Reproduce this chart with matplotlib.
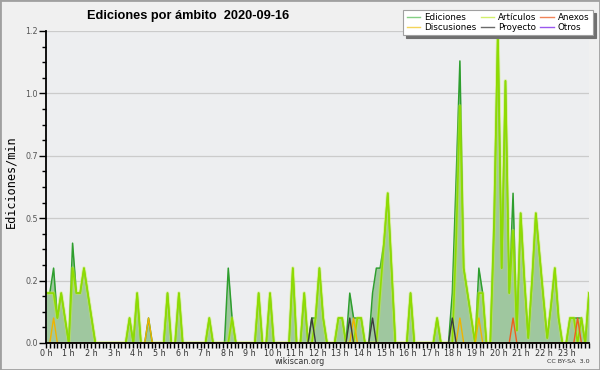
"""
Ediciones por ámbito (wikiscan), 2020-09-16 — 10-minute bins, edits per minute.
"""

import numpy as np
import matplotlib.pyplot as plt
from matplotlib.lines import Line2D
from matplotlib.patches import Rectangle
from matplotlib.ticker import FixedLocator, FixedFormatter, MultipleLocator

N_BINS = 144  # 10-minute bins over 24 h

# one row per hour, six 10-minute bins each
ediciones = [
    0.2, 0.2, 0.3, 0.1, 0.2, 0.1,
    0.0, 0.4, 0.2, 0.2, 0.3, 0.2,
    0.1, 0.0, 0.0, 0.0, 0.0, 0.0,
    0.0, 0.0, 0.0, 0.0, 0.1, 0.0,
    0.2, 0.0, 0.0, 0.1, 0.0, 0.0,
    0.0, 0.0, 0.2, 0.0, 0.0, 0.2,
    0.0, 0.0, 0.0, 0.0, 0.0, 0.0,
    0.0, 0.1, 0.0, 0.0, 0.0, 0.0,
    0.3, 0.1, 0.0, 0.0, 0.0, 0.0,
    0.0, 0.0, 0.2, 0.0, 0.0, 0.2,
    0.0, 0.0, 0.0, 0.0, 0.0, 0.3,
    0.0, 0.0, 0.2, 0.0, 0.1, 0.1,
    0.3, 0.1, 0.0, 0.0, 0.0, 0.1,
    0.1, 0.0, 0.2, 0.1, 0.1, 0.1,
    0.0, 0.0, 0.2, 0.3, 0.3, 0.4,
    0.6, 0.3, 0.0, 0.0, 0.0, 0.0,
    0.2, 0.0, 0.0, 0.0, 0.0, 0.0,
    0.0, 0.1, 0.0, 0.0, 0.0, 0.2,
    0.65, 1.13, 0.3, 0.2, 0.1, 0.0,
    0.3, 0.2, 0.0, 0.0, 0.5, 1.25,
    0.3, 1.05, 0.2, 0.6, 0.05, 0.52,
    0.25, 0.02, 0.25, 0.52, 0.35, 0.18,
    0.02, 0.15, 0.3, 0.1, 0.0, 0.0,
    0.1, 0.1, 0.1, 0.1, 0.0, 0.2,
]

articulos = [
    0.2, 0.2, 0.2, 0.1, 0.2, 0.1,
    0.0, 0.3, 0.2, 0.2, 0.3, 0.2,
    0.1, 0.0, 0.0, 0.0, 0.0, 0.0,
    0.0, 0.0, 0.0, 0.0, 0.1, 0.0,
    0.2, 0.0, 0.0, 0.0, 0.0, 0.0,
    0.0, 0.0, 0.2, 0.0, 0.0, 0.2,
    0.0, 0.0, 0.0, 0.0, 0.0, 0.0,
    0.0, 0.1, 0.0, 0.0, 0.0, 0.0,
    0.0, 0.1, 0.0, 0.0, 0.0, 0.0,
    0.0, 0.0, 0.2, 0.0, 0.0, 0.2,
    0.0, 0.0, 0.0, 0.0, 0.0, 0.3,
    0.0, 0.0, 0.2, 0.0, 0.0, 0.1,
    0.3, 0.1, 0.0, 0.0, 0.0, 0.1,
    0.1, 0.0, 0.0, 0.0, 0.1, 0.1,
    0.0, 0.0, 0.0, 0.0, 0.2, 0.4,
    0.6, 0.3, 0.0, 0.0, 0.0, 0.0,
    0.2, 0.0, 0.0, 0.0, 0.0, 0.0,
    0.0, 0.1, 0.0, 0.0, 0.0, 0.0,
    0.4, 0.95, 0.3, 0.2, 0.1, 0.0,
    0.2, 0.2, 0.0, 0.0, 0.45, 1.25,
    0.3, 1.05, 0.2, 0.45, 0.05, 0.52,
    0.25, 0.02, 0.25, 0.52, 0.35, 0.18,
    0.02, 0.15, 0.3, 0.1, 0.0, 0.0,
    0.1, 0.1, 0.0, 0.1, 0.0, 0.2,
]

# sparse series: bin index -> edits/min
discusiones = {2: 0.1, 27: 0.1, 81: 0.1, 109: 0.1, 114: 0.1}
proyecto = {70: 0.1, 80: 0.1, 86: 0.1, 107: 0.1}
anexos = {123: 0.1, 140: 0.1}
otros = {}

y_ticks = [0.0, 0.25, 0.5, 0.75, 1.0, 1.25]
y_labels = ["0.0", "0.2", "0.5", "0.7", "1.0", "1.2"]
hours = list(range(24))


def dense(sparse):
    arr = np.zeros(N_BINS)
    for k, v in sparse.items():
        arr[k] = v
    return arr


def main():
    # wikiscan stretches the bins so the last one sits on the right edge
    t = np.arange(N_BINS) * 24.0 / (N_BINS - 1)

    fig = plt.figure(figsize=(6, 3.7), dpi=100, facecolor="#f0f0f0")
    ax = fig.add_axes([46 / 600, 27 / 370, 543 / 600, 312 / 370])
    ax.set_facecolor("#edeef0")

    ax.grid(axis="y", color="#cbcbcb", linewidth=0.9)
    ax.set_axisbelow(True)

    ax.fill_between(t, ediciones, color="#9fc79f", linewidth=0, zorder=2)
    ax.plot(t, ediciones, color="#2e9e2e", linewidth=1.1, zorder=3)
    # artículos line has a soft glow in the original
    ax.plot(t, articulos, color="#c4f040", linewidth=2.6, alpha=0.45, zorder=3.1)
    ax.plot(t, articulos, color="#8fdc00", linewidth=1.2, zorder=3.2)
    ax.plot(t, dense(discusiones), color="#f0b400", linewidth=1.0, zorder=3.3)
    ax.plot(t, dense(proyecto), color="#3c3c3c", linewidth=1.0, zorder=3.3)
    ax.plot(t, dense(anexos), color="#ee5e1e", linewidth=1.0, zorder=3.3)
    ax.plot(t, dense(otros), color="#9440e0", linewidth=1.0, zorder=3.3)

    ax.set_xlim(0, 24)
    ax.set_ylim(0, 1.25)

    for side in ("top", "right"):
        ax.spines[side].set_visible(False)
    for side in ("left", "bottom"):
        ax.spines[side].set_linewidth(1.3)
        ax.spines[side].set_zorder(5)

    ax.xaxis.set_major_locator(FixedLocator(hours))
    ax.xaxis.set_major_formatter(FixedFormatter([f"{h} h" for h in hours]))
    ax.xaxis.set_minor_locator(MultipleLocator(1 / 6))
    ax.yaxis.set_major_locator(FixedLocator(y_ticks))
    ax.yaxis.set_major_formatter(FixedFormatter(y_labels))
    ax.yaxis.set_minor_locator(MultipleLocator(0.0625))

    ax.tick_params(axis="x", which="both", length=3.5, width=1, pad=1,
                   labelsize=5.8, labelcolor="#333333")
    ax.tick_params(axis="y", which="major", length=5, width=1, pad=1,
                   labelsize=5.8, labelcolor="#555555")
    ax.tick_params(axis="y", which="minor", length=3, width=1)

    fig.text(0.313, 0.958, "Ediciones por ámbito  2020-09-16",
             ha="center", va="center", fontsize=9.2, fontweight="bold",
             family="Liberation Sans")
    fig.text(0.018, 0.51, "Ediciones/min", rotation=90, ha="center",
             va="center", family="DejaVu Sans Mono", fontsize=8.6)
    fig.text(0.5, 0.022, "wikiscan.org", ha="center", va="center",
             fontsize=5.8, color="#333333")
    fig.text(0.982, 0.022, "CC BY-SA  3.0", ha="right", va="center",
             fontsize=4.6, color="#333333")

    handles = [
        Line2D([], [], color="#84cf84", lw=1),
        Line2D([], [], color="#f4d45a", lw=1),
        Line2D([], [], color="#d2ef6c", lw=1),
        Line2D([], [], color="#6a6a6a", lw=1),
        Line2D([], [], color="#f08458", lw=1),
        Line2D([], [], color="#9a58ee", lw=1),
    ]
    labels = ["Ediciones", "Discusiones", "Artículos", "Proyecto", "Anexos", "Otros"]
    leg = ax.legend(handles, labels, ncol=3, loc="upper right",
                    bbox_to_anchor=(593 / 600, 1 - 10 / 370),
                    bbox_transform=fig.transFigure, fontsize=6.3,
                    fancybox=False, shadow={"color": "#707070", "alpha": 1},
                    edgecolor="#a0a0a0", framealpha=1, handlelength=1.5,
                    handletextpad=0.5, columnspacing=0.45, labelspacing=0.05,
                    borderpad=0.4, borderaxespad=0)
    leg.set_zorder(10)
    leg.get_frame().set_linewidth(0.8)

    fig.add_artist(Rectangle((0, 0), 1, 1, transform=fig.transFigure,
                             fill=False, edgecolor="#a0a0a0", linewidth=2))

    fig.savefig("out.png", dpi=100, facecolor=fig.get_facecolor())
    plt.close(fig)


if __name__ == "__main__":
    main()
